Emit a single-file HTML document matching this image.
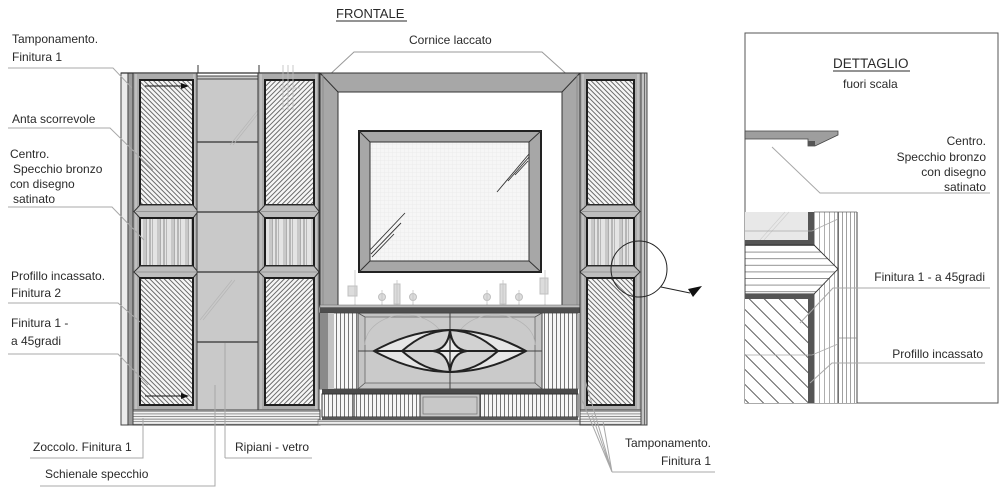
<!DOCTYPE html>
<html><head><meta charset="utf-8">
<style>
html,body{margin:0;padding:0;background:#fff;}
svg{display:block}
text{font-family:"Liberation Sans",sans-serif;font-size:12px;fill:#2a2a2a}
</style></head><body>
<svg width="1000" height="487" viewBox="0 0 1000 487" xmlns="http://www.w3.org/2000/svg">
<defs>
<pattern id="hb" width="3.4" height="3.4" patternUnits="userSpaceOnUse" patternTransform="rotate(-45)"><rect width="3.4" height="3.4" fill="#f6f6f6"/><line x1="0.5" y1="0" x2="0.5" y2="3.4" stroke="#4a4a4a" stroke-width="0.8"/></pattern>
<pattern id="hf" width="3.4" height="3.4" patternUnits="userSpaceOnUse" patternTransform="rotate(45)"><rect width="3.4" height="3.4" fill="#f6f6f6"/><line x1="0.5" y1="0" x2="0.5" y2="3.4" stroke="#4a4a4a" stroke-width="0.8"/></pattern>
<pattern id="vs" width="14" height="10" patternUnits="userSpaceOnUse" x="140"><rect width="14" height="10" fill="#e4e4e4"/><rect x="3" width="3" height="10" fill="#c8c8c8"/><rect x="9" width="2" height="10" fill="#b6b6b6"/><line x1="6.5" y1="0" x2="6.5" y2="10" stroke="#8a8a8a" stroke-width="0.6"/><line x1="12.5" y1="0" x2="12.5" y2="10" stroke="#9a9a9a" stroke-width="0.6"/></pattern>
<pattern id="vl" width="4" height="10" patternUnits="userSpaceOnUse"><rect width="4" height="10" fill="#f7f7f7"/><line x1="0.5" y1="0" x2="0.5" y2="10" stroke="#555" stroke-width="0.8"/></pattern>
<pattern id="hl" width="10" height="2.6" patternUnits="userSpaceOnUse"><rect width="10" height="2.6" fill="#f2f2f2"/><line x1="0" y1="0.5" x2="10" y2="0.5" stroke="#666" stroke-width="0.7"/></pattern>
<pattern id="dh" width="10.6" height="10.6" patternUnits="userSpaceOnUse" patternTransform="rotate(-45)"><rect width="10.6" height="10.6" fill="#fff"/><line x1="0.5" y1="0" x2="0.5" y2="10.6" stroke="#333" stroke-width="0.8"/></pattern>
<pattern id="h7" width="10" height="6.6" patternUnits="userSpaceOnUse" y="245"><rect width="10" height="6.6" fill="#fff"/><line x1="0" y1="0.5" x2="10" y2="0.5" stroke="#777" stroke-width="0.8"/></pattern>
<pattern id="v5" width="5" height="10" patternUnits="userSpaceOnUse" x="814"><rect width="5" height="10" fill="#fff"/><line x1="0.5" y1="0" x2="0.5" y2="10" stroke="#999" stroke-width="0.8"/></pattern>
<pattern id="v4" width="4" height="10" patternUnits="userSpaceOnUse" x="838"><rect width="4" height="10" fill="#fff"/><line x1="0.5" y1="0" x2="0.5" y2="10" stroke="#888" stroke-width="0.8"/></pattern>
<pattern id="grid" width="4" height="4" patternUnits="userSpaceOnUse"><rect width="4" height="4" fill="#f6f6f6"/><path d="M0 0.5H4M0.5 0V4" stroke="#ececec" stroke-width="0.5"/></pattern>
<clipPath id="dclip"><rect x="745" y="33" width="253" height="370"/></clipPath>
</defs>

<!-- TITLES -->
<text x="336" y="18" style="font-size:13px">FRONTALE</text>
<line x1="336" y1="21" x2="407" y2="21" stroke="#2a2a2a" stroke-width="1"/>
<text x="409" y="44">Cornice laccato</text>
<path d="M325,79 L354,52 H542 L572,79" fill="none" stroke="#999" stroke-width="1"/>

<!-- LEFT UNIT -->
<rect x="121" y="73" width="7" height="352" fill="#ececec" stroke="#444" stroke-width="1"/>
<rect x="128" y="73" width="5" height="352" fill="#9c9c9c" stroke="#333" stroke-width="0.8"/>
<line x1="121" y1="73" x2="320" y2="73" stroke="#333" stroke-width="1.2"/>

<!-- door 1 -->
<rect x="133" y="73" width="64" height="337" fill="#acacac" stroke="#333" stroke-width="1"/>
<line x1="136" y1="74" x2="136" y2="409" stroke="#d2d2d2" stroke-width="1"/>
<line x1="194" y1="74" x2="194" y2="409" stroke="#d2d2d2" stroke-width="1"/>
<rect x="140" y="80" width="53" height="125" fill="url(#hb)" stroke="#1e1e1e" stroke-width="2"/>
<polygon points="134,211.5 140,205 193,205 198,211.5 193,218 140,218" fill="#bdbdbd" stroke="#333" stroke-width="1"/>
<line x1="136" y1="211.5" x2="196" y2="211.5" stroke="#8a8a8a" stroke-width="0.8"/>
<rect x="140" y="218" width="53" height="48" fill="url(#vs)" stroke="#1e1e1e" stroke-width="2"/>
<polygon points="134,272 140,266 193,266 198,272 193,278 140,278" fill="#bdbdbd" stroke="#333" stroke-width="1"/>
<line x1="136" y1="272" x2="196" y2="272" stroke="#8a8a8a" stroke-width="0.8"/>
<rect x="140" y="278" width="53" height="127" fill="url(#hb)" stroke="#1e1e1e" stroke-width="2"/>
<line x1="145" y1="86" x2="183" y2="86" stroke="#111" stroke-width="1"/><polygon points="189,86 181,83 181,89" fill="#111"/>
<line x1="145" y1="396" x2="183" y2="396" stroke="#111" stroke-width="1"/><polygon points="189,396 181,393 181,399" fill="#111"/>

<!-- col 2 shelves -->
<rect x="197" y="76" width="61" height="334" fill="#c9c9c9" stroke="#444" stroke-width="1"/>
<line x1="197" y1="79" x2="258" y2="79" stroke="#444" stroke-width="1"/>
<line x1="197" y1="142" x2="258" y2="142" stroke="#333" stroke-width="1.3"/>
<line x1="197" y1="212" x2="258" y2="212" stroke="#333" stroke-width="1.3"/>
<line x1="197" y1="272" x2="258" y2="272" stroke="#333" stroke-width="1.3"/>
<line x1="197" y1="342" x2="258" y2="342" stroke="#333" stroke-width="1.3"/>
<line x1="198" y1="65" x2="198" y2="73" stroke="#333" stroke-width="1"/>
<line x1="259" y1="65" x2="259" y2="73" stroke="#333" stroke-width="1"/>
<path d="M230,145 L262,105 M233,145 L265,105 M200,320 L232,280 M203,320 L235,280" stroke="#b5b5b5" stroke-width="0.7"/>

<!-- door 2 -->
<rect x="258" y="73" width="61" height="337" fill="#acacac" stroke="#333" stroke-width="1"/>
<line x1="261" y1="74" x2="261" y2="409" stroke="#d2d2d2" stroke-width="1"/>
<line x1="316" y1="74" x2="316" y2="409" stroke="#d2d2d2" stroke-width="1"/>
<rect x="265" y="80" width="49" height="125" fill="url(#hf)" stroke="#1e1e1e" stroke-width="2"/>
<polygon points="259,211.5 265,205 314,205 319,211.5 314,218 265,218" fill="#bdbdbd" stroke="#333" stroke-width="1"/>
<line x1="261" y1="211.5" x2="317" y2="211.5" stroke="#8a8a8a" stroke-width="0.8"/>
<rect x="265" y="218" width="49" height="48" fill="url(#vs)" stroke="#1e1e1e" stroke-width="2"/>
<polygon points="259,272 265,266 314,266 319,272 314,278 265,278" fill="#bdbdbd" stroke="#333" stroke-width="1"/>
<line x1="261" y1="272" x2="317" y2="272" stroke="#8a8a8a" stroke-width="0.8"/>
<rect x="265" y="278" width="49" height="127" fill="url(#hf)" stroke="#1e1e1e" stroke-width="2"/>
<path d="M283,65 V110 M288,65 V110 M293,65 V110 M278,88 H300" stroke="#bdbdbd" stroke-width="0.8" fill="none"/>

<!-- plinth left -->
<rect x="133" y="410" width="187" height="15" fill="url(#hl)" stroke="#444" stroke-width="1"/>

<!-- CENTER UNIT -->
<path d="M320,73 H580 V306 H562 V92 H338 V306 H320 Z" fill="#a7a7a7" stroke="#333" stroke-width="1"/>
<line x1="320" y1="73" x2="338" y2="92" stroke="#333" stroke-width="1"/>
<line x1="580" y1="73" x2="562" y2="92" stroke="#333" stroke-width="1"/>
<line x1="323" y1="74" x2="323" y2="306" stroke="#888" stroke-width="0.8"/>
<line x1="577" y1="74" x2="577" y2="306" stroke="#888" stroke-width="0.8"/>

<!-- mirror -->
<rect x="359" y="131" width="182" height="141" fill="#a7a7a7" stroke="#222" stroke-width="2"/>
<rect x="370" y="142" width="159" height="119" fill="url(#grid)" stroke="#333" stroke-width="1"/>
<path d="M359,131 L370,142 M541,131 L529,142 M359,272 L370,261 M541,272 L529,261" stroke="#333" stroke-width="1"/>
<path d="M370,250 L405,213 M371,254 L401,223 M372,257 L394,234 M529,154 L497,192 M529,157 L508,181 M528,161 L515,175" stroke="#333" stroke-width="0.9"/>

<!-- faucets -->
<g stroke="#c0c0c0" stroke-width="1" fill="#dcdcdc">
<rect x="348" y="286" width="9" height="10"/>
<rect x="540" y="278" width="8" height="16"/>
<circle cx="382" cy="297" r="3.5"/><circle cx="413" cy="297" r="3.5"/><circle cx="487" cy="297" r="3.5"/><circle cx="519" cy="297" r="3.5"/>
<rect x="394" y="284" width="6" height="20"/><rect x="500" y="284" width="6" height="20"/>
</g>
<path d="M355,270 V305 M545,270 V305 M382,290 V313 M413,290 V313 M487,290 V313 M519,290 V313 M397,280 V313 M503,280 V313" stroke="#c4c4c4" stroke-width="0.8"/>

<!-- countertop -->
<rect x="320" y="305" width="260" height="2.5" fill="#bdbdbd" stroke="#666" stroke-width="0.5"/>
<rect x="320" y="307.5" width="260" height="5.5" fill="#4e4e4e"/>

<!-- cabinet -->
<rect x="320" y="313" width="38" height="76" fill="url(#vl)" stroke="#444" stroke-width="0.8"/>
<rect x="320" y="313" width="8" height="76" fill="#8a8a8a"/>
<rect x="328" y="313" width="6" height="76" fill="#c3c3c3"/>
<rect x="542" y="313" width="36" height="76" fill="url(#vl)" stroke="#444" stroke-width="0.8"/>
<rect x="358" y="313" width="184" height="76" fill="#c4c4c4" stroke="#444" stroke-width="1"/>
<rect x="365" y="317" width="170" height="66" fill="#cacaca" stroke="#666" stroke-width="0.8"/>
<path d="M358,313 L365,317 M542,313 L535,317 M358,389 L365,383 M542,389 L535,383" stroke="#555" stroke-width="0.8"/>
<path d="M365,345 A40,30 0 0 1 445,345 M455,345 A40,30 0 0 1 535,345" fill="none" stroke="#b3b3b3" stroke-width="0.8"/>
<line x1="450" y1="313" x2="450" y2="389" stroke="#444" stroke-width="1"/>
<line x1="358" y1="351" x2="542" y2="351" stroke="#444" stroke-width="1"/>
<path d="M374,351 Q450,309 526,351 Q450,393 374,351 Z" fill="#e6e6e6" stroke="#222" stroke-width="2"/>
<path d="M402,351 C418,337 432,331 450,330 C468,331 482,337 498,351 C482,365 468,371 450,372 C432,371 418,365 402,351 Z" fill="#d2d2d2" stroke="#222" stroke-width="2"/>
<path d="M450,330 Q452,349 467,351 Q452,353 450,372 Q448,353 433,351 Q448,349 450,330 Z" fill="#ececec" stroke="#222" stroke-width="2"/>
<line x1="374" y1="351" x2="526" y2="351" stroke="#222" stroke-width="2"/>
<line x1="450" y1="330" x2="450" y2="372" stroke="#222" stroke-width="1.2"/>

<!-- base -->
<rect x="322" y="389" width="256" height="5" fill="#4a4a4a"/>
<rect x="322" y="394" width="256" height="23" fill="url(#vl)" stroke="#333" stroke-width="1"/>
<line x1="354" y1="394" x2="354" y2="417" stroke="#222" stroke-width="1"/>
<rect x="420" y="394" width="60" height="23" fill="#c8c8c8" stroke="#333" stroke-width="1"/>
<rect x="423" y="397" width="54" height="17" fill="none" stroke="#777" stroke-width="0.8"/>
<rect x="322" y="417" width="256" height="3" fill="#555"/>
<rect x="318" y="420" width="264" height="5" fill="url(#hl)" stroke="#666" stroke-width="0.6"/>

<!-- RIGHT UNIT -->
<rect x="580" y="73" width="61" height="337" fill="#acacac" stroke="#333" stroke-width="1"/>
<line x1="583" y1="74" x2="583" y2="409" stroke="#d2d2d2" stroke-width="1"/>
<line x1="638" y1="74" x2="638" y2="409" stroke="#d2d2d2" stroke-width="1"/>
<rect x="587" y="80" width="47" height="125" fill="url(#hb)" stroke="#1e1e1e" stroke-width="2"/>
<polygon points="580,211.5 587,205 634,205 640,211.5 634,218 587,218" fill="#bdbdbd" stroke="#333" stroke-width="1"/>
<line x1="582" y1="211.5" x2="638" y2="211.5" stroke="#8a8a8a" stroke-width="0.8"/>
<rect x="587" y="218" width="47" height="48" fill="url(#vs)" stroke="#1e1e1e" stroke-width="2"/>
<polygon points="580,272 587,266 634,266 640,272 634,278 587,278" fill="#bdbdbd" stroke="#333" stroke-width="1"/>
<line x1="582" y1="272" x2="638" y2="272" stroke="#8a8a8a" stroke-width="0.8"/>
<rect x="587" y="278" width="47" height="127" fill="url(#hb)" stroke="#1e1e1e" stroke-width="2"/>
<rect x="641" y="73" width="6" height="352" fill="#c4c4c4" stroke="#444" stroke-width="1"/>
<line x1="644.5" y1="73" x2="644.5" y2="425" stroke="#555" stroke-width="0.8"/>
<rect x="580" y="410" width="61" height="15" fill="url(#hl)" stroke="#444" stroke-width="1"/>

<!-- detail callout circle -->
<circle cx="639" cy="269" r="28" fill="none" stroke="#222" stroke-width="1"/>
<line x1="661" y1="287" x2="690" y2="293" stroke="#222" stroke-width="1"/>
<polygon points="688,289 702,286 693,297" fill="#111"/>

<!-- LEFT LABELS -->
<g stroke="#a8a8a8" stroke-width="1" fill="none">
<path d="M8,68 H113 L132,88"/>
<path d="M8,128 H110 L153,170"/>
<path d="M8,207 H112 L144,240"/>
<path d="M8,303 H118 L140,322"/>
<path d="M8,354 H118 L148,385"/>
<path d="M30,458 H143 V418"/>
<path d="M225,458 H312"/>
<path d="M225,458 V343"/>
<path d="M40,486 H215 V385"/>
<path d="M612,472 H715"/>
<path d="M612,472 L582,400 M612,472 L592,415 M612,472 L603,421 M612,472 L585,380"/>
</g>
<text x="12" y="43">Tamponamento.</text>
<text x="12" y="61">Finitura 1</text>
<text x="12" y="123">Anta scorrevole</text>
<text x="10" y="158">Centro.</text>
<text x="13" y="173">Specchio bronzo</text>
<text x="10" y="188">con disegno</text>
<text x="13" y="203">satinato</text>
<text x="11" y="280">Profillo incassato.</text>
<text x="11" y="297">Finitura 2</text>
<text x="11" y="327">Finitura 1 -</text>
<text x="11" y="345">a 45gradi</text>
<text x="33" y="451">Zoccolo. Finitura 1</text>
<text x="235" y="451">Ripiani - vetro</text>
<text x="45" y="478">Schienale specchio</text>
<text x="711" y="447" text-anchor="end">Tamponamento.</text>
<text x="711" y="465" text-anchor="end">Finitura 1</text>

<!-- DETAIL BOX -->
<rect x="745" y="33" width="253" height="370" fill="#fff" stroke="#555" stroke-width="1"/>
<text x="833" y="68" style="font-size:13.5px">DETTAGLIO</text>
<line x1="833" y1="71" x2="910" y2="71" stroke="#2a2a2a" stroke-width="1"/>
<text x="843" y="88">fuori scala</text>
<polygon points="745,131 838,131 838,135 815,146 808,146 808,139 745,139" fill="#9e9e9e" stroke="#444" stroke-width="0.8"/>
<rect x="808" y="141" width="7" height="5" fill="#555"/>
<path d="M772,147 L820,193 H990" fill="none" stroke="#a8a8a8" stroke-width="1"/>
<text x="986" y="145" text-anchor="end">Centro.</text>
<text x="986" y="161" text-anchor="end">Specchio bronzo</text>
<text x="986" y="176" text-anchor="end">con disegno</text>
<text x="986" y="191" text-anchor="end">satinato</text>

<g clip-path="url(#dclip)">
<rect x="745" y="212" width="63" height="28" fill="#e8e8e8"/>
<path d="M760,240 L785,212 M764,240 L789,212" stroke="#cfcfcf" stroke-width="0.7"/>
<rect x="814" y="212" width="24" height="191" fill="url(#v5)"/>
<rect x="838" y="212" width="19" height="191" fill="url(#v4)"/>
<line x1="838" y1="212" x2="838" y2="403" stroke="#444" stroke-width="1"/>
<line x1="857" y1="212" x2="857" y2="403" stroke="#444" stroke-width="1"/>
<line x1="814" y1="212" x2="857" y2="212" stroke="#666" stroke-width="0.8"/>
<line x1="838" y1="338" x2="857" y2="338" stroke="#888" stroke-width="0.8"/>
<rect x="808" y="212" width="6" height="33" fill="#555"/>
<rect x="745" y="240" width="69" height="5" fill="#555"/>
<polygon points="745,245 814,245 838,269 814,294 745,294" fill="url(#h7)" stroke="#333" stroke-width="0.9"/>
<rect x="745" y="294" width="69" height="5" fill="#555"/>
<rect x="808" y="294" width="6" height="109" fill="#555"/>
<rect x="745" y="299" width="63" height="104" fill="url(#dh)"/>
<path d="M745,231 H812 L838,219 M745,355 H812 L838,344" fill="none" stroke="#aaa" stroke-width="0.8"/>
</g>
<path d="M990,288 H833 L800,323" fill="none" stroke="#a8a8a8" stroke-width="1"/>
<path d="M985,363 H832 L810,383" fill="none" stroke="#a8a8a8" stroke-width="1"/>
<text x="985" y="281" text-anchor="end">Finitura 1 - a 45gradi</text>
<text x="983" y="358" text-anchor="end">Profillo incassato</text>
</svg>
</body></html>
